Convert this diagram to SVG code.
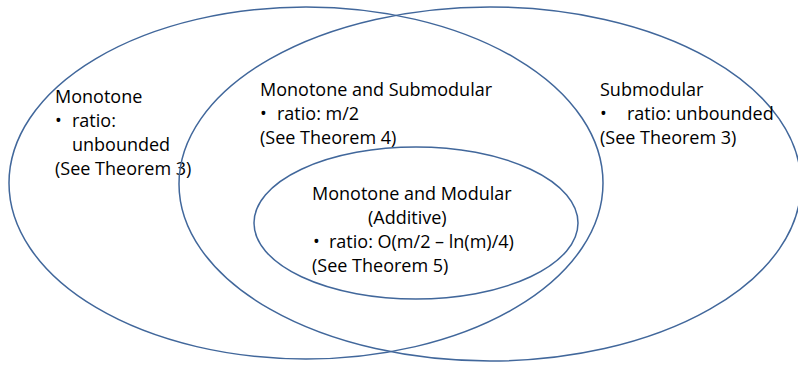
<svg xmlns="http://www.w3.org/2000/svg" width="798" height="365" viewBox="0 0 798 365">
<style>
.e{fill:none;stroke:#41679b;stroke-width:1.5}
text{font-family:"Open Sans","Liberation Sans",sans-serif;font-size:18px;fill:#000}
</style>
<rect width="798" height="365" fill="#fff"/>
<g id="monotone">
<ellipse class="e" cx="306" cy="183" rx="297" ry="176"/>
<text x="55" y="103">Monotone</text>
<text x="55" y="127">•</text><text x="72" y="127">ratio:</text>
<text x="72" y="151">unbounded</text>
<text x="55" y="175">(See Theorem 3)</text>
</g>
<g id="submodular">
<ellipse class="e" cx="490" cy="184" rx="311" ry="177"/>
<text x="600" y="96">Submodular</text>
<text x="600" y="120">•</text><text x="627" y="120">ratio: unbounded</text>
<text x="600" y="144">(See Theorem 3)</text>
</g>
<g id="mono-sub">
<text x="260" y="96">Monotone and Submodular</text>
<text x="260" y="120">•</text><text x="277" y="120">ratio: m/2</text>
<text x="260" y="144">(See Theorem 4)</text>
</g>
<g id="modular">
<ellipse class="e" cx="416" cy="223" rx="162" ry="76"/>
<text x="312" y="200">Monotone and Modular</text>
<text x="368" y="224">(Additive)</text>
<text x="313" y="248">•</text><text x="329" y="248">ratio: O(m/2 – ln(m)/4)</text>
<text x="312" y="272">(See Theorem 5)</text>
</g>
<g id="connectors"></g>
</svg>
